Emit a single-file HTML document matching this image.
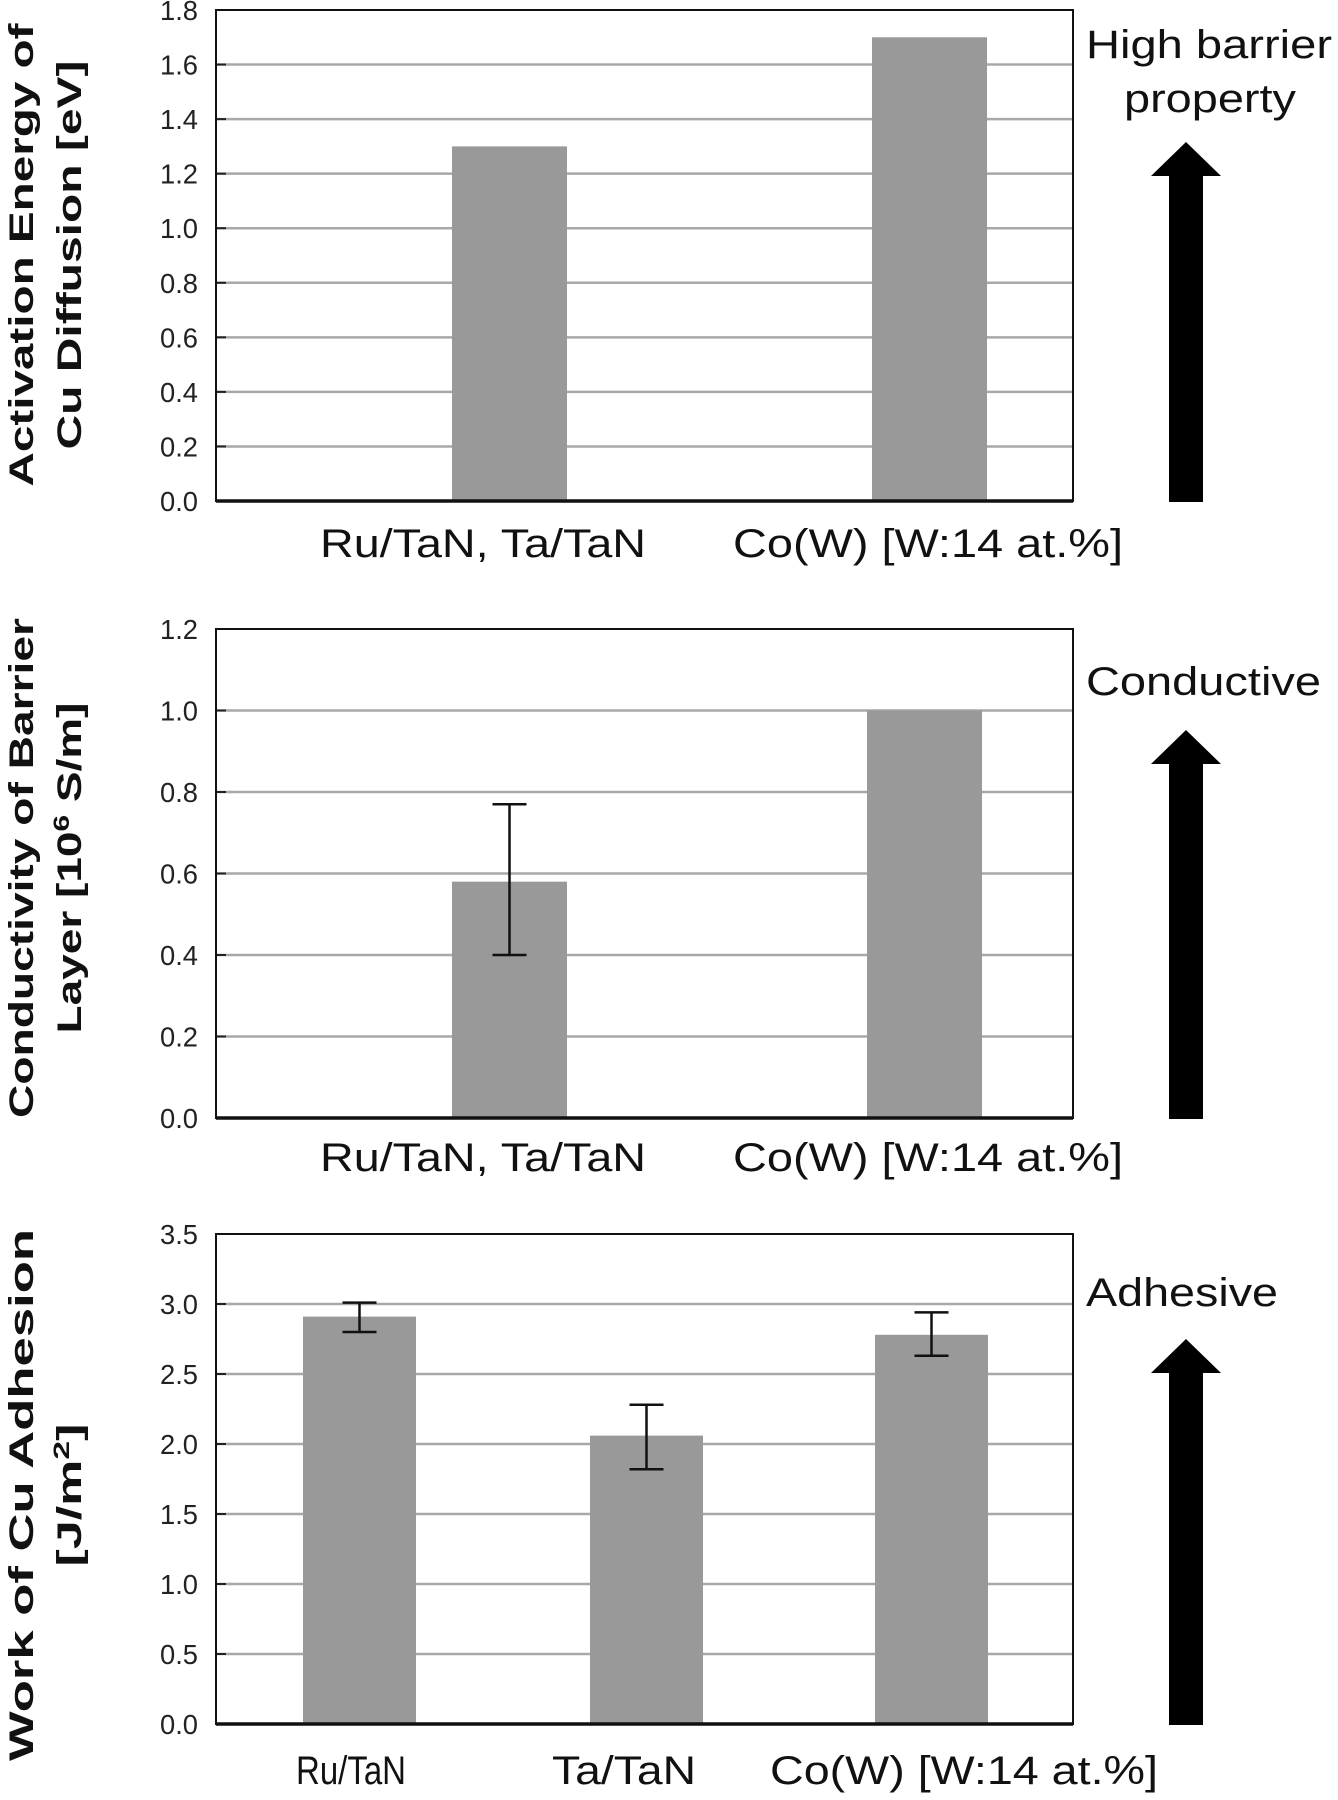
<!DOCTYPE html>
<html><head><meta charset="utf-8"><style>
html,body{margin:0;padding:0;background:#fff;}
svg{display:block;}
.tick{font-family:"Liberation Sans Narrow","Liberation Sans",sans-serif;font-size:28px;fill:#222;}
.cat{font-family:"Liberation Sans Narrow","Liberation Sans",sans-serif;font-size:40px;fill:#111;}
.side{font-family:"Liberation Sans Narrow","Liberation Sans",sans-serif;font-size:40px;fill:#111;}
.ytitle{font-family:"Liberation Sans",sans-serif;font-weight:bold;font-size:34px;fill:#111;}
</style></head><body>
<svg id="fig" width="1338" height="1800" viewBox="0 0 1338 1800" xmlns="http://www.w3.org/2000/svg"></svg>
<script>
// Chart 1: activation energy
const c1Categories = ["Ru/TaN, Ta/TaN", "Co(W) [W:14 at.%]"];
const c1Values = [1.3, 1.7];
const c1Ticks = ["0.0","0.2","0.4","0.6","0.8","1.0","1.2","1.4","1.6","1.8"];
// Chart 2: conductivity
const c2Categories = ["Ru/TaN, Ta/TaN", "Co(W) [W:14 at.%]"];
const c2Values = [0.58, 1.0];
const c2ErrLow = [0.40, null];
const c2ErrHigh = [0.77, null];
const c2Ticks = ["0.0","0.2","0.4","0.6","0.8","1.0","1.2"];
// Chart 3: adhesion
const c3Categories = ["Ru/TaN", "Ta/TaN", "Co(W) [W:14 at.%]"];
const c3Values = [2.91, 2.06, 2.78];
const c3ErrLow = [2.80, 1.82, 2.63];
const c3ErrHigh = [3.01, 2.28, 2.94];
const c3Ticks = ["0.0","0.5","1.0","1.5","2.0","2.5","3.0","3.5"];

const NS = "http://www.w3.org/2000/svg";
const svg = document.getElementById('fig');
function mk(tag, attrs, parent){
  const e = document.createElementNS(NS, tag);
  for (const k in attrs) e.setAttribute(k, attrs[k]);
  (parent||svg).appendChild(e);
  return e;
}

function chart(cfg){
  const g = mk('g', {});
  
  
  const L=cfg.left,R=cfg.right,T=cfg.top,B=cfg.bottom;
  const ymax = parseFloat(cfg.ticks[cfg.ticks.length-1]);
  const y = v => B - (v/ymax)*(B-T);
  const n = cfg.ticks.length;
  cfg.ticks.forEach((t,i)=>{
    const v = parseFloat(t);
    const yy = y(v);
    if (i>0 && i<n-1){
      const gl = mk('line',{x1:L,x2:R,y1:yy,y2:yy,stroke:'#a8a8a8','stroke-width':2.5},g);
      
      
    }
    const tk = mk('line',{x1:L,x2:L+10,y1:yy,y2:yy,stroke:'#222','stroke-width':2},g);
    
    
    const tx = mk('text',{x:L-18,y:yy+10,'text-anchor':'end',class:'tick',textLength:38,lengthAdjust:'spacingAndGlyphs'},g);
    
    
    tx.textContent = t;
  });
  cfg.values.forEach((v,i)=>{
    const bx = cfg.barX[i];
    const r = mk('rect',{x:bx,y:y(v),width:cfg.barW,height:B-y(v),fill:'#999999'},g);
    
    
    if (cfg.lo && cfg.lo[i]!=null){
      const cx = bx+cfg.barW/2;
      const eg = mk('g',{stroke:'#111','stroke-width':2.5},g);
      
      
      mk('line',{x1:cx,x2:cx,y1:y(cfg.hi[i]),y2:y(cfg.lo[i])},eg);
      mk('line',{x1:cx-17,x2:cx+17,y1:y(cfg.hi[i]),y2:y(cfg.hi[i])},eg);
      mk('line',{x1:cx-17,x2:cx+17,y1:y(cfg.lo[i]),y2:y(cfg.lo[i])},eg);
    }
  });
  const fr = mk('rect',{x:L,y:T,width:R-L,height:B-T,fill:'none',stroke:'#111','stroke-width':2},g);
  
  
  const ax = mk('line',{x1:L,x2:R,y1:B,y2:B,stroke:'#111','stroke-width':3.5},g);
  
  
  cfg.cats.forEach((c,i)=>{
    const t = mk('text',{x:cfg.catX[i],y:cfg.catY,class:'cat',textLength:cfg.catW[i],lengthAdjust:'spacingAndGlyphs'},g);
    
    
    t.textContent = c;
  });
  cfg.ytitle.forEach((s,i)=>{
    const bx = cfg.ytX[i], cy = cfg.ytCy;
    const t = mk('text',{x:bx,y:cy,'text-anchor':'middle',class:'ytitle',transform:'rotate(-90 '+bx+' '+cy+')',textLength:cfg.ytW[i],lengthAdjust:'spacingAndGlyphs'},g);
    
    
    if (typeof s === 'object'){
      t.appendChild(document.createTextNode(s.a));
      const sp = mk('tspan',{dy:-12,'font-size':22},t);
      sp.textContent = s.sup;
      const sp2 = mk('tspan',{dy:12},t);
      sp2.textContent = s.b;
    } else t.textContent = s;
  });
  cfg.side.forEach((s,i)=>{
    const t = mk('text',{x:cfg.sideX[i],y:cfg.sideY[i],class:'side',textLength:cfg.sideW[i],lengthAdjust:'spacingAndGlyphs'},g);
    
    
    t.textContent = s;
  });
  const a = cfg.arrow;
  const ar = mk('polygon',{points:`1169,${B+1} 1203,${B+1} 1203,${a.base} 1221,${a.base} 1186,${a.top} 1151,${a.base} 1169,${a.base}`,fill:'#000'},g);
  
  
}

chart({name:'activation-energy-chart',left:216,right:1073,top:10,bottom:501,ticks:c1Ticks,values:c1Values,
  barX:[452,872],barW:115,cats:c1Categories,catX:[320,733],catY:557,catW:[326,390],
  ytitle:["Activation Energy of","Cu Diffusion [eV]"],ytX:[33,81],ytCy:255,ytW:[463,389],
  side:["High barrier","property"],sideX:[1086,1124],sideY:[58,112],sideW:[246,172],arrow:{top:142,base:176}});

chart({name:'conductivity-chart',left:216,right:1073,top:629,bottom:1118,ticks:c2Ticks,values:c2Values,lo:c2ErrLow,hi:c2ErrHigh,
  barX:[452,867],barW:115,cats:c2Categories,catX:[320,733],catY:1171,catW:[326,390],
  ytitle:["Conductivity of Barrier",{a:"Layer [10",sup:"6",b:" S/m]"}],ytX:[33,81],ytCy:868,ytW:[500,331],
  side:["Conductive"],sideX:[1086],sideY:[695],sideW:[235],arrow:{top:730,base:764}});

chart({name:'adhesion-chart',left:216,right:1073,top:1234,bottom:1724,ticks:c3Ticks,values:c3Values,lo:c3ErrLow,hi:c3ErrHigh,
  barX:[303,590,875],barW:113,cats:c3Categories,catX:[296,552,770],catY:1784,catW:[110,144,388],
  ytitle:["Work of Cu Adhesion",{a:"[J/m",sup:"2",b:"]"}],ytX:[33,81],ytCy:1495,ytW:[532,143],
  side:["Adhesive"],sideX:[1086],sideY:[1306],sideW:[192],arrow:{top:1339,base:1373}});
</script>
</body></html>
